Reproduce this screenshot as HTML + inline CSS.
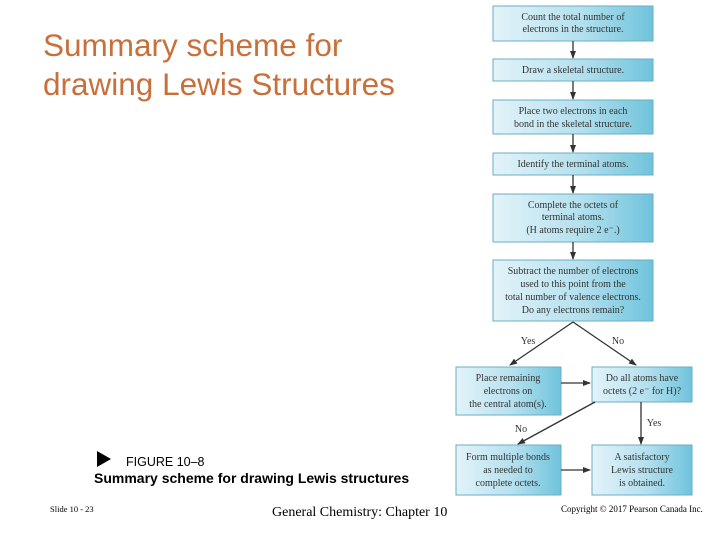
<!DOCTYPE html>
<html><head><meta charset="utf-8"><style>
html,body{margin:0;padding:0;background:#fff;}
svg{display:block}
</style></head><body>
<svg width="720" height="540" viewBox="0 0 720 540" xmlns="http://www.w3.org/2000/svg">
<defs>
<linearGradient id="g" x1="0" y1="0" x2="1" y2="0">
<stop offset="0" stop-color="#e3f3f9"/><stop offset="0.55" stop-color="#b4e0ee"/><stop offset="1" stop-color="#6fc3dc"/>
</linearGradient>
<marker id="a" markerWidth="8" markerHeight="8" refX="7" refY="4" orient="auto" markerUnits="userSpaceOnUse">
<path d="M0,1 L8,4 L0,7 z" fill="#333"/></marker>
</defs>
<g font-family="Liberation Sans, sans-serif" fill="#c8703a" font-size="31.5">
<text x="43" y="56">Summary scheme for</text>
<text x="43" y="95">drawing Lewis Structures</text>
</g>
<g fill="url(#g)" stroke="#6aaec4" stroke-width="1">
<rect x="493" y="6" width="160" height="35"/>
<rect x="493" y="59" width="160" height="22"/>
<rect x="493" y="100" width="160" height="34"/>
<rect x="493" y="153" width="160" height="22"/>
<rect x="493" y="194" width="160" height="48"/>
<rect x="493" y="260" width="160" height="61"/>
<rect x="456" y="367" width="105" height="48"/>
<rect x="592" y="367" width="100" height="35"/>
<rect x="456" y="445" width="105" height="50"/>
<rect x="592" y="445" width="100" height="50"/>
</g>
<g stroke="#333" stroke-width="1.3" fill="none" marker-end="url(#a)">
<line x1="573" y1="41" x2="573" y2="58"/>
<line x1="573" y1="81" x2="573" y2="99"/>
<line x1="573" y1="134" x2="573" y2="152"/>
<line x1="573" y1="175" x2="573" y2="193"/>
<line x1="573" y1="242" x2="573" y2="259"/>
<line x1="573" y1="322" x2="510" y2="365"/>
<line x1="573" y1="322" x2="636" y2="365"/>
<line x1="561" y1="383" x2="590" y2="383"/>
<line x1="595" y1="402" x2="518" y2="444"/>
<line x1="641" y1="402" x2="641" y2="444"/>
<line x1="561" y1="470" x2="590" y2="470"/>
</g>
<g font-family="Liberation Serif, serif" font-size="10" fill="#333" text-anchor="middle">
<text x="573" y="20">Count the total number of</text>
<text x="573" y="32">electrons in the structure.</text>
<text x="573" y="73">Draw a skeletal structure.</text>
<text x="573" y="114">Place two electrons in each</text>
<text x="573" y="127">bond in the skeletal structure.</text>
<text x="573" y="167">Identify the terminal atoms.</text>
<text x="573" y="208">Complete the octets of</text>
<text x="573" y="220">terminal atoms.</text>
<text x="573" y="233">(H atoms require 2 e⁻.)</text>
<text x="573" y="274">Subtract the number of electrons</text>
<text x="573" y="287">used to this point from the</text>
<text x="573" y="300">total number of valence electrons.</text>
<text x="573" y="313">Do any electrons remain?</text>
<text x="528" y="344">Yes</text>
<text x="618" y="344">No</text>
<text x="508" y="381">Place remaining</text>
<text x="508" y="394">electrons on</text>
<text x="508" y="407">the central atom(s).</text>
<text x="642" y="381">Do all atoms have</text>
<text x="642" y="394">octets (2 e⁻ for H)?</text>
<text x="521" y="432">No</text>
<text x="654" y="426">Yes</text>
<text x="508" y="460">Form multiple bonds</text>
<text x="508" y="473">as needed to</text>
<text x="508" y="486">complete octets.</text>
<text x="642" y="460">A satisfactory</text>
<text x="642" y="473">Lewis structure</text>
<text x="642" y="486">is obtained.</text>
</g>
<path d="M97,451 L111,459 L97,467 z" fill="#000"/>
<text x="126" y="466" font-family="Liberation Sans, sans-serif" font-size="12.5" fill="#000">FIGURE 10–8</text>
<text x="94" y="483" font-family="Liberation Sans, sans-serif" font-size="14" font-weight="bold" fill="#000">Summary scheme for drawing Lewis structures</text>
<text x="50" y="512" font-family="Liberation Serif, serif" font-size="8.5" fill="#000">Slide 10 - 23</text>
<text x="272" y="516" font-family="Liberation Serif, serif" font-size="14" fill="#000">General Chemistry: Chapter 10</text>
<text x="561" y="512" font-family="Liberation Serif, serif" font-size="9" fill="#000">Copyright © 2017 Pearson Canada Inc.</text>
</svg>
</body></html>
